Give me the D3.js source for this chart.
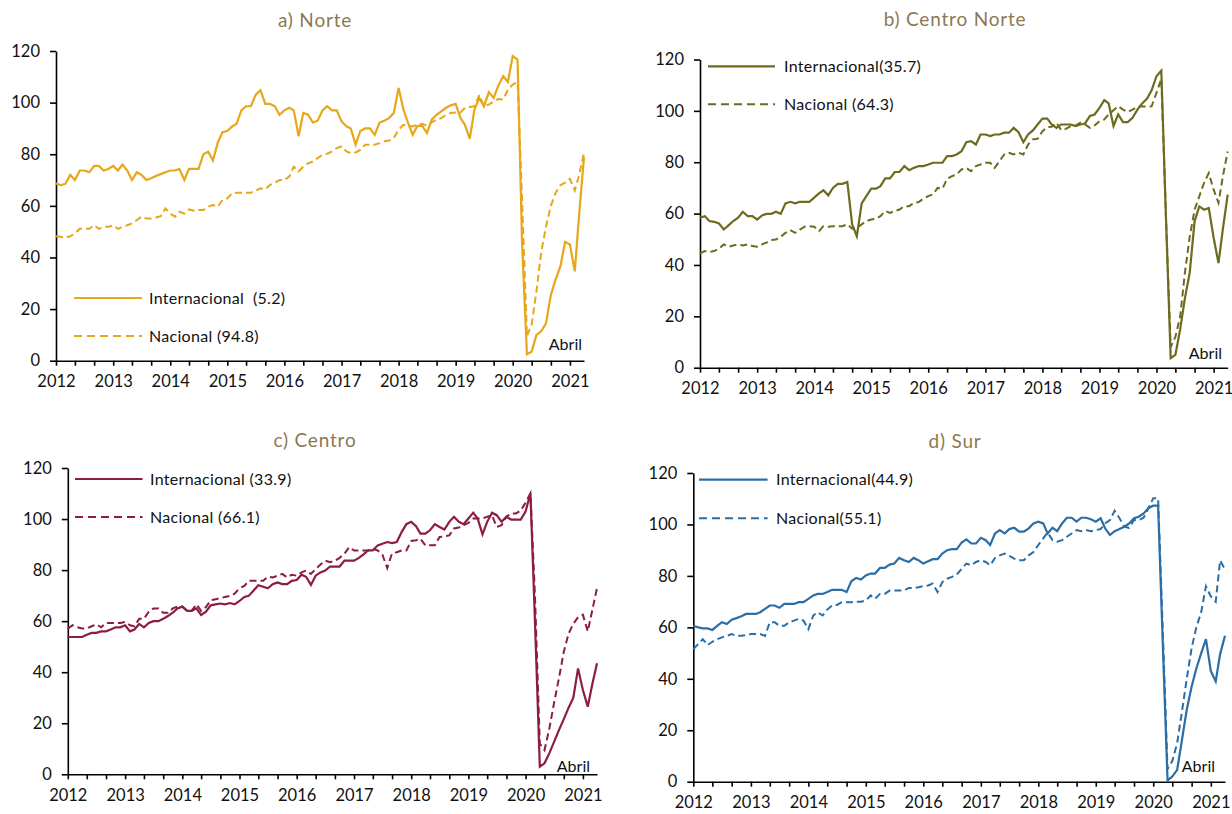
<!DOCTYPE html>
<html>
  <head>
    <meta charset="utf-8">
    <title>Pasajeros por region</title>
    <script src="https://d3js.org/d3.v7.min.js"></script>
    <style>
      body { margin: 0; background: #fff; }
      text { font-family: "Lato", "Carlito", "Calibri", sans-serif; fill: #111; }
      .title { fill: #8c7853; font-size: 19px; letter-spacing: 0.8px; }
      .axis text { font-size: 16.5px; }
      .axis path, .axis line { stroke: #000; stroke-width: 1.6px; }
      .leg { font-size: 16px; letter-spacing: 0.3px; }
    </style>
  </head>
  <body>
    <svg width="1232" height="814"></svg>

  <script>
    // monthly series, Jan 2012 .. Apr 2021 (112 points)
    var norteInt = [68.7, 68, 68.5, 72, 70, 73.7, 73.7, 73, 75.5, 75.5,
      73.7, 74.3, 75.5, 73.7, 76, 73.7, 70, 73, 72, 70,
      70.7, 71.6, 72.3, 73, 73.7, 73.7, 74.3, 70, 74.3, 74.3,
      74.3, 80, 81, 77.6, 84.5, 88.5, 89, 90.8, 91.8, 97,
      98.6, 98.6, 103, 104.8, 99.5, 99.5, 98.6, 95.3, 97, 98,
      97, 87, 96, 95.3, 92.3, 93, 97, 98.6, 97, 97,
      92.7, 90.8, 90, 83.7, 89, 90, 90, 87.5, 92.3, 93,
      94, 96, 105.7, 97.3, 92.3, 87.5, 91, 91, 88.2, 93.4,
      95.3, 96.6, 98, 99, 99.5, 94, 91.4, 86, 97.3, 101.8,
      98.6, 104, 101.8, 106.6, 110.2, 108, 118, 116.7, 45, 2.5,
      3.5, 10, 11.4, 14.5, 25.5, 31.4, 36.5, 46, 45, 34.6,
      56.7, 79];
    var norteNac = [48.2, 48, 47.7, 48.2, 49.3, 51.1, 51.1, 51.1, 52.5, 51.1,
      51.9, 51.9, 52.4, 51.1, 51.9, 52.5, 53.2, 54.5, 55.8, 55.1,
      55.1, 55.5, 56, 59, 57, 55.8, 57.7, 57, 58.6, 58.1,
      58.4, 58.4, 59.7, 60.3, 59.7, 62.3, 62.9, 64.9, 65.1, 65.1,
      65.1, 65.1, 65.9, 66.8, 66.4, 68.1, 69, 70, 70, 71.3,
      75.2, 73.3, 75.2, 76.5, 77.2, 78.5, 79.8, 80.2, 81.1, 82.4,
      83, 81.1, 80.4, 80.7, 81.7, 83.7, 83.7, 83.7, 84.3, 85,
      85.3, 86.3, 89.5, 91.4, 91, 90.8, 91.4, 91.8, 91, 92.3,
      93.4, 94, 95.3, 96, 96.2, 96.2, 98, 98.3, 98.6, 103,
      98.6, 99.2, 100.5, 101.4, 101.2, 105, 107, 108, 62, 9.5,
      14, 27, 42, 52, 60, 65, 68, 69, 70.5, 66,
      72, 80.5];

    var cnorteInt = [58.4, 59, 57.1, 56.8, 56.2, 53.8, 55.4, 57.1, 58.4, 60.7,
      59, 59, 57.7, 59.3, 59.9, 59.9, 60.7, 59.9, 64, 64.6,
      64, 64.6, 64.6, 64.6, 66.2, 67.9, 69.1, 67.1, 70, 71.6,
      71.6, 72.3, 55.8, 51.2, 64, 66.8, 69.7, 69.7, 70.7, 73.7,
      73.7, 76.2, 76.2, 78.5, 76.9, 77.8, 78.5, 78.5, 79.1, 79.8,
      79.8, 79.8, 82.4, 82.4, 83, 84.3, 87.8, 88.2, 86.9, 90.8,
      90.8, 90.2, 90.8, 90.8, 91.5, 91.5, 93.4, 91.7, 87.8, 90.8,
      92.4, 94.7, 97, 97, 94.7, 93.4, 94.7, 94.7, 94.7, 94.1,
      94.7, 95.1, 98, 98.6, 101.2, 104.2, 102.9, 94.1, 98.6, 95.6,
      95.6, 97.3, 100.5, 102.9, 104.7, 108, 113.5, 115.7, 60, 3.7,
      5, 15, 27, 37, 57, 62.8, 61.5, 62.2, 50.6, 40.7,
      54, 67.4];
    var cnorteNac = [44.5, 45.4, 45.1, 45.4, 46.3, 48, 47.1, 47.6, 48, 47.6,
      48, 47.4, 47.1, 48, 48.7, 49.7, 49.9, 51, 52.5, 53.6,
      52.5, 53.8, 54.9, 55.1, 54.9, 53.2, 55.1, 54.9, 55.1, 55.1,
      55.1, 55.8, 54.1, 54.5, 55.8, 57.1, 57.7, 58, 59, 61,
      60.3, 61, 61.6, 62.9, 62.9, 64.2, 64.5, 65.8, 66.8, 67.5,
      70, 69.7, 73.6, 74.6, 75.2, 77.2, 77.8, 76.5, 78.5, 79.1,
      79.8, 79.8, 77.8, 80.4, 83, 83.7, 83, 83.7, 83, 86.9,
      88.9, 89.1, 92.1, 93.7, 93.8, 95.4, 92.5, 93, 94.1, 94.3,
      95.4, 94.7, 93.4, 94.3, 96, 96.7, 98.6, 100.2, 101.8, 100.5,
      99.5, 100.5, 101.6, 101.8, 101.6, 101.8, 107, 112.5, 60, 8,
      12, 20, 37, 51, 61.5, 66.7, 72, 75.8, 69.3, 64.2,
      74.5, 84.2];

    var centroInt = [53.8, 53.8, 53.8, 53.8, 54.7, 55.4, 55.4, 56, 56, 56.7,
      57.6, 57.6, 58.4, 56, 56.7, 58.9, 57.6, 59.3, 60, 60,
      60.9, 62, 63.3, 65, 65.7, 64, 64, 65, 62.4, 63.7,
      66.2, 66.6, 66.9, 66.6, 67.1, 66.6, 67.9, 69.5, 69.9, 72,
      74.1, 73.5, 72.9, 74.5, 75.2, 74.5, 74.5, 75.8, 76.1, 78.2,
      77.4, 74.2, 77.8, 79.1, 79.8, 81.4, 81.4, 81.4, 83.7, 83.7,
      83.7, 84.8, 86.1, 87.7, 87.7, 89.7, 90.3, 91, 90.6, 91,
      94.9, 98, 98.9, 97.2, 94.3, 94.3, 95.6, 98, 96.9, 95.9,
      98.9, 100.9, 98.9, 98, 100.2, 102.5, 100.2, 94, 98.9, 102.5,
      101.5, 98.9, 100.9, 99.8, 99.8, 99.8, 102.9, 110.1, 60, 3,
      4.3, 8.3, 12.7, 17.3, 21.6, 26, 30, 41.5, 33, 26.5,
      35, 43.5];
    var centroNac = [57.1, 58.4, 57.6, 57.1, 57.1, 58, 58.7, 57.6, 59.3, 59.3,
      59.3, 59.3, 59.7, 58.4, 58, 60.9, 60.9, 63.7, 65, 65,
      63.3, 63.3, 65, 65.7, 65.7, 64, 64, 66.6, 64, 65.5,
      68.2, 68.6, 69, 69.5, 69.9, 70.8, 72.9, 73.8, 75.8, 75.8,
      75.8, 75.8, 77.4, 77.1, 77.8, 78.5, 77.1, 78.2, 77.8, 79.1,
      79.8, 78.5, 80.4, 82.2, 83.7, 83.1, 83.7, 84.8, 86.4, 89,
      87.7, 87.7, 87.7, 87.7, 88.4, 87.7, 86.1, 80.8, 86.6, 87,
      87.7, 87.7, 91.4, 91.7, 92.3, 89.7, 89.7, 89.7, 93, 93.2,
      93.6, 96.3, 96.7, 97.6, 98.5, 100.2, 100.2, 100.2, 100.9, 101.5,
      96.9, 97.6, 100.9, 102.2, 102.2, 103.3, 106.4, 110.1, 70, 12,
      9.5, 18, 28, 37.6, 48, 55, 59, 61.5, 62.5, 56,
      64, 73];

    var surInt = [60.6, 60, 59.6, 59.6, 59, 60.6, 62, 61.3, 63, 63.6,
      64.3, 65.2, 65.2, 65.2, 65.9, 67.2, 68.5, 68.5, 67.6, 69.1,
      69.1, 69.1, 69.8, 69.8, 71.1, 72.4, 73, 73, 73.7, 74.6,
      74.6, 74.6, 73.7, 77.9, 79.2, 78.6, 80.2, 80.9, 80.9, 83.1,
      83.1, 84.4, 84.8, 87, 86.1, 85.4, 87, 86.1, 84.8, 85.7,
      86.5, 86.5, 88.7, 90, 90.4, 90.4, 93, 94.2, 92.6, 92.6,
      94.8, 93.9, 92, 96.5, 97.8, 96.5, 98.2, 98.7, 97.2, 97.2,
      98.5, 100.4, 101.1, 100.4, 96.5, 98.7, 97.4, 100.4, 102.6, 102.6,
      101.1, 102.6, 102.6, 102, 101.1, 102.4, 98.5, 95.9, 97.4, 98.2,
      99.1, 100.4, 102.4, 103, 104.3, 106.3, 107.3, 107.3, 55, 0.5,
      2, 4.6, 16, 28, 37, 44, 50, 55.4, 43, 39,
      49.6, 56.7];
    var surNac = [51.5, 53.5, 55.4, 53.1, 54.4, 55.4, 56.1, 56.7, 57.4, 56.7,
      56.7, 57, 57.4, 57.4, 57.4, 56.7, 62, 62, 60.6, 60.6,
      62, 62.6, 63.3, 62.6, 59.3, 64.6, 65.9, 64.6, 66.9, 68.5,
      68.7, 69.8, 69.8, 69.8, 70, 70, 70.4, 72.4, 71.1, 73,
      73, 74.3, 74.3, 74.3, 74.3, 75.3, 75.3, 75.6, 76, 76.3,
      77, 73.7, 77.6, 78.9, 79.6, 80.5, 82.8, 84.8, 84.1, 85.4,
      86.1, 85.4, 84.1, 87, 88, 88.7, 87.8, 86.7, 86.1, 86.1,
      88, 89.3, 92, 94.6, 96.9, 93.9, 93.3, 93.9, 95.2, 96.5,
      97.8, 97.4, 97.8, 97.4, 97.8, 98.2, 100.4, 101.7, 105.3, 102.4,
      99.1, 98.7, 101.7, 101.7, 102.6, 106.3, 110.2, 110.2, 60, 5,
      8, 15, 27, 40, 52, 60, 66, 76, 72, 70,
      86, 82.5];

    var yearLabels = ["2012", "2013", "2014", "2015", "2016", "2017", "2018", "2019", "2020", "2021"];
    var yTicks = [0, 20, 40, 60, 80, 100, 120];
    var months = d3.timeMonth.range(new Date(2012, 0, 1), new Date(2021, 4, 1));

    // one config per panel (layout only)
    var panels = [
      { title: "a) Norte", color: "#e6a718", int: norteInt, nac: norteNac,
        legInt: "Internacional  (5.2)", legNac: "Nacional (94.8)",
        x0: 56, x1: 584, yTop: 51, yBot: 360.7, tx: 315, ty: 27,
        lx1: 74, lx2: 142, ltx: 149, lyInt: 298, lyNac: 336, ax: 582, ay: 350 },
      { title: "b) Centro Norte", color: "#6e6b1e", int: cnorteInt, nac: cnorteNac,
        legInt: "Internacional(35.7)", legNac: "Nacional (64.3)",
        x0: 700, x1: 1227.7, yTop: 59.5, yBot: 367.7, tx: 955, ty: 26,
        lx1: 708, lx2: 775, ltx: 784, lyInt: 66.4, lyNac: 104.3, ax: 1222, ay: 359 },
      { title: "c) Centro", color: "#8c1c40", int: centroInt, nac: centroNac,
        legInt: "Internacional (33.9)", legNac: "Nacional (66.1)",
        x0: 67.8, x1: 597, yTop: 468, yBot: 774.3, tx: 315, ty: 447,
        lx1: 75, lx2: 142.5, ltx: 150, lyInt: 479, lyNac: 517, ax: 590, ay: 771.5 },
      { title: "d) Sur", color: "#2b6ea6", int: surInt, nac: surNac,
        legInt: "Internacional(44.9)", legNac: "Nacional(55.1)",
        x0: 693.3, x1: 1225, yTop: 473, yBot: 781.7, tx: 955, ty: 448,
        lx1: 699, lx2: 767.6, ltx: 776, lyInt: 479.7, lyNac: 518.3, ax: 1215, ay: 771.5 }
    ];

    var svg = d3.select("svg");

    panels.forEach(function(p) {
      var g = svg.append("g");

      var x = d3.scaleTime()
        .domain([months[0], months[months.length - 1]])
        .range([p.x0, p.x1]);
      var y = d3.scaleLinear().domain([0, 120]).range([p.yBot, p.yTop]);

      // ticks every 4 months, labels on January
      var tickDates = months.filter(function(d, i) { return i % 4 === 0; });

      g.append("g")
        .attr("class", "axis")
        .attr("transform", "translate(0," + p.yBot + ")")
        .call(d3.axisBottom(x)
          .tickValues(tickDates)
          .tickSize(5)
          .tickSizeOuter(0)
          .tickPadding(10)
          .tickFormat(function(d) {
            return d.getMonth() === 0 ? yearLabels[d.getFullYear() - 2012] : "";
          }));

      g.append("g")
        .attr("class", "axis")
        .attr("transform", "translate(" + p.x0 + ",0)")
        .call(d3.axisLeft(y).tickValues(yTicks).tickSize(6).tickSizeOuter(0).tickPadding(10));

      var line = d3.line()
        .x(function(d, i) { return x(months[i]); })
        .y(function(d) { return y(d); });

      g.append("path")
        .datum(p.nac)
        .attr("fill", "none")
        .attr("stroke", p.color)
        .attr("stroke-width", 2)
        .attr("stroke-dasharray", "7,4")
        .attr("d", line);

      g.append("path")
        .datum(p.int)
        .attr("fill", "none")
        .attr("stroke", p.color)
        .attr("stroke-width", 2.2)
        .attr("d", line);

      // title
      g.append("text")
        .attr("class", "title")
        .attr("x", p.tx)
        .attr("y", p.ty)
        .attr("text-anchor", "middle")
        .text(p.title);

      // legend
      g.append("line")
        .attr("x1", p.lx1).attr("x2", p.lx2)
        .attr("y1", p.lyInt).attr("y2", p.lyInt)
        .attr("stroke", p.color).attr("stroke-width", 2.2);
      g.append("line")
        .attr("x1", p.lx1).attr("x2", p.lx2)
        .attr("y1", p.lyNac).attr("y2", p.lyNac)
        .attr("stroke", p.color).attr("stroke-width", 2)
        .attr("stroke-dasharray", "8,5");
      g.append("text").attr("class", "leg")
        .attr("x", p.ltx).attr("y", p.lyInt).attr("dy", "0.35em")
        .style("white-space", "pre")
        .text(p.legInt);
      g.append("text").attr("class", "leg")
        .attr("x", p.ltx).attr("y", p.lyNac).attr("dy", "0.35em")
        .text(p.legNac);

      g.append("text")
        .attr("x", p.ax)
        .attr("y", p.ay)
        .attr("text-anchor", "end")
        .attr("font-size", "16px")
        .text("Abril");
    });
  </script>
  </body>
</html>
